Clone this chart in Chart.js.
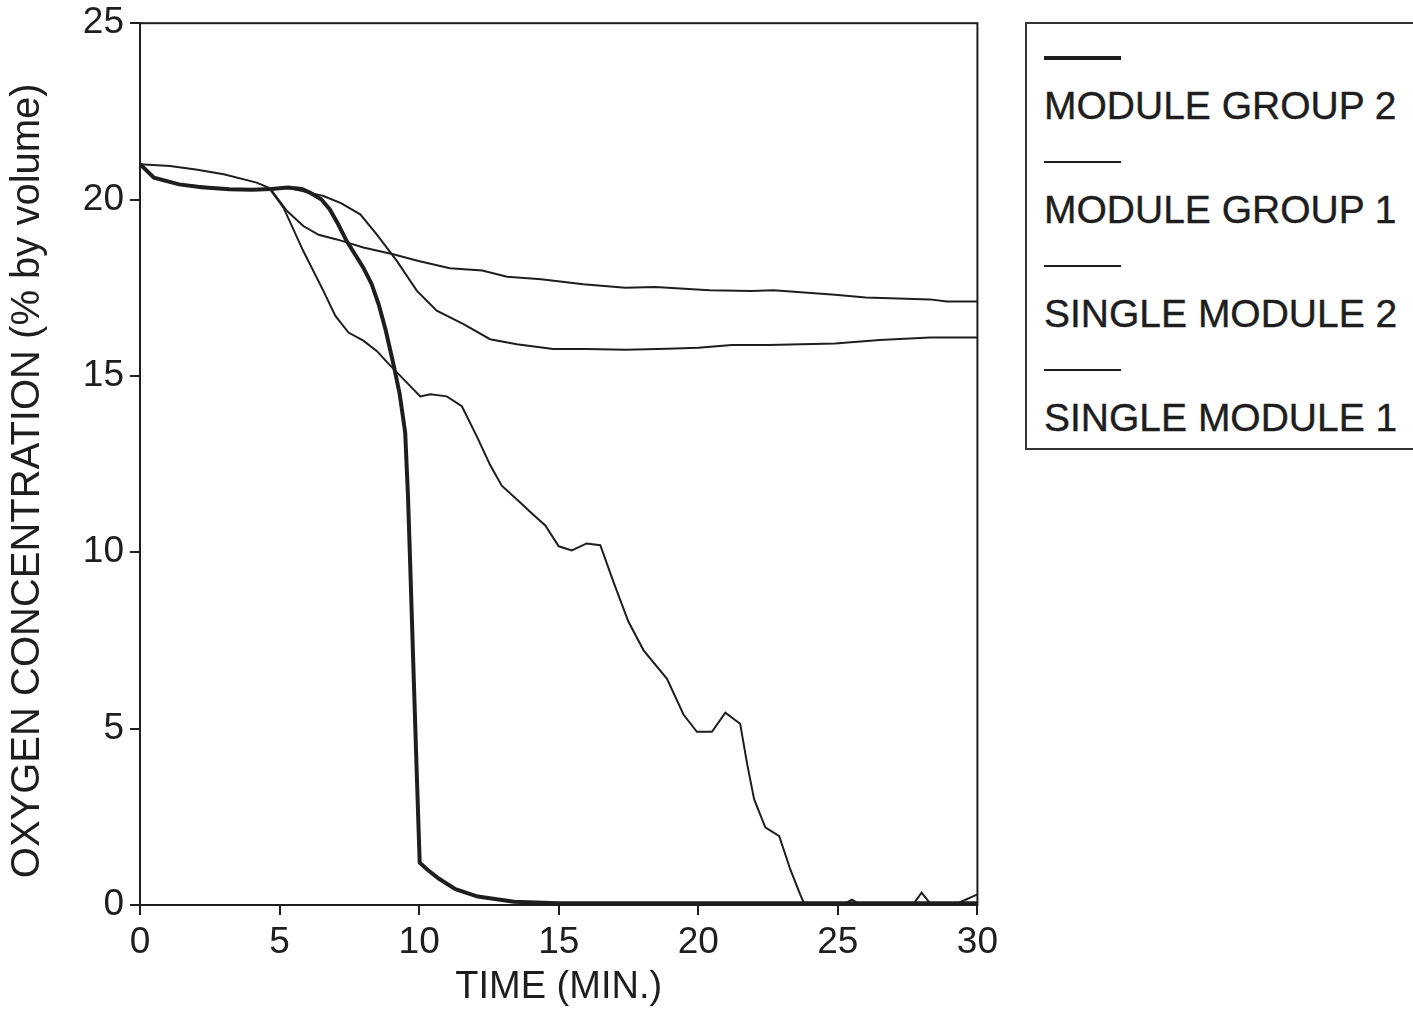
<!DOCTYPE html>
<html>
<head>
<meta charset="utf-8">
<script src="https://cdn.jsdelivr.net/npm/chart.js@4.4.1/dist/chart.umd.min.js"></script>
<style>
  html, body { margin: 0; padding: 0; background: #fff; }
  body { width: 1413px; height: 1014px; position: relative; overflow: hidden; font-family: "Liberation Sans", Arial, sans-serif; color: #1e1e1e; }
  #wrap { position: absolute; left: 0; top: -5px; width: 1004px; height: 1019px; }
  #legend { position: absolute; left: 1025px; top: 22px; width: 420px; height: 428px; border: 2px solid #333; box-sizing: border-box; }
  .leg-line { position: absolute; left: 17px; width: 77px; background: #1e1e1e; }
  .leg-text { position: absolute; left: 17px; font-size: 39px; line-height: 39px; white-space: nowrap; -webkit-text-stroke: 0.4px #1e1e1e; }
</style>
</head>
<body>
<div id="wrap"><canvas id="chart"></canvas></div>
<div id="legend"></div>
<script>
// series labels (legend order)
const seriesNames = ["MODULE GROUP 2", "MODULE GROUP 1", "SINGLE MODULE 2", "SINGLE MODULE 1"];
const lineWidths = [4, 2, 2, 2];

// x ticks / y ticks
const timeTicks = [0, 5, 10, 15, 20, 25, 30];
const o2Ticks = [0, 5, 10, 15, 20, 25];

// MODULE GROUP 2 (thick)
const timeMG2 = [0, 0.5, 1.4, 2.2, 3.2, 4.0, 4.7, 5.3, 5.8, 6.1, 6.5, 6.8, 7.1, 7.4, 7.7, 8.0, 8.3, 8.55, 8.8, 9.08, 9.3, 9.5, 9.6, 9.68, 9.8, 9.92, 10.02, 10.3, 10.7, 11.3, 12.1, 13.4, 15, 20, 25, 30];
const o2MG2 = [21.0, 20.62, 20.43, 20.35, 20.29, 20.28, 20.3, 20.34, 20.3, 20.19, 20.0, 19.72, 19.3, 18.83, 18.45, 18.07, 17.6, 17.03, 16.3, 15.33, 14.5, 13.4, 11.6, 9.65, 6.6, 3.6, 1.2, 1.0, 0.75, 0.45, 0.24, 0.09, 0.05, 0.05, 0.05, 0.05];

// MODULE GROUP 1
const timeMG1 = [0, 0.48, 1.43, 3.2, 4.66, 5.14, 5.85, 6.57, 7.0, 7.47, 8.0, 8.48, 8.9, 9.5, 10.04, 10.4, 10.99, 11.53, 12.07, 12.54, 12.96, 13.62, 14.1, 14.52, 15.0, 15.47, 16.0, 16.49, 16.97, 17.5, 18.04, 18.88, 19.47, 19.95, 20.49, 20.97, 21.5, 21.75, 22.0, 22.4, 22.9, 23.3, 23.65, 23.8, 25.2, 25.5, 25.8, 27.7, 28.0, 28.3, 29.3, 30];
const o2MG1 = [21.0, 20.62, 20.43, 20.29, 20.29, 19.77, 18.54, 17.41, 16.7, 16.23, 16.0, 15.71, 15.35, 14.86, 14.42, 14.48, 14.42, 14.14, 13.28, 12.48, 11.89, 11.41, 11.06, 10.76, 10.17, 10.05, 10.25, 10.2, 9.14, 8.03, 7.22, 6.41, 5.4, 4.91, 4.91, 5.45, 5.14, 4.0, 3.0, 2.2, 1.95, 1.0, 0.3, 0.02, 0.02, 0.15, 0.02, 0.02, 0.35, 0.05, 0.05, 0.3];

// SINGLE MODULE 2
const timeSM2 = [0, 0.48, 1.43, 3.2, 4.66, 5.26, 6.09, 6.57, 7.2, 7.89, 8.48, 9.2, 9.92, 10.63, 11.59, 12.54, 13.5, 14.8, 16, 17.4, 18.9, 20, 21.2, 22.5, 24.9, 26.5, 28.3, 30];
const o2SM2 = [21.0, 20.62, 20.43, 20.29, 20.29, 20.34, 20.19, 20.1, 19.9, 19.58, 19.01, 18.26, 17.41, 16.85, 16.47, 16.04, 15.9, 15.76, 15.76, 15.74, 15.77, 15.8, 15.88, 15.88, 15.92, 16.02, 16.09, 16.09];

// SINGLE MODULE 1
const timeSM1 = [0, 1.07, 2.0, 3.0, 4.18, 4.66, 5.26, 5.85, 6.4, 7.05, 8.0, 9.07, 9.98, 11.1, 12.26, 13.15, 14.37, 15.88, 17.38, 18.46, 20.4, 21.9, 22.7, 24.9, 26.0, 28.3, 28.9, 30];
const o2SM1 = [21.0, 20.95, 20.85, 20.72, 20.48, 20.32, 19.68, 19.25, 19.0, 18.87, 18.64, 18.45, 18.26, 18.05, 17.99, 17.81, 17.74, 17.6, 17.5, 17.52, 17.43, 17.41, 17.43, 17.3, 17.22, 17.17, 17.11, 17.11];

const allTimes = [timeMG2, timeMG1, timeSM2, timeSM1];
const allO2 = [o2MG2, o2MG1, o2SM2, o2SM1];

const INK = "#1e1e1e";

// box round the plot area (top and right sides)
const frame = {
  id: "frame",
  afterDraw(chart) {
    const a = chart.chartArea;
    const ctx = chart.ctx;
    ctx.save();
    ctx.strokeStyle = INK;
    ctx.lineWidth = 2;
    ctx.strokeRect(a.left, a.top, a.right - a.left, a.bottom - a.top);
    ctx.restore();
  }
};

const datasets = seriesNames.map((name, i) => ({
  label: name,
  data: allTimes[i].map((t, k) => ({ x: t, y: allO2[i][k] })),
  borderColor: INK,
  borderWidth: lineWidths[i],
  pointRadius: 0,
  tension: 0,
  fill: false
}));

Chart.defaults.font.family = '"Liberation Sans", Arial, sans-serif';
Chart.defaults.color = INK;

new Chart(document.getElementById("chart"), {
  type: "line",
  data: { datasets },
  options: {
    responsive: true,
    maintainAspectRatio: false,
    animation: false,
    layout: { padding: { top: 0, right: 23, bottom: 0, left: 0 } },
    plugins: { legend: { display: false }, tooltip: { enabled: false } },
    scales: {
      x: {
        type: "linear",
        min: 0,
        max: 30,
        afterBuildTicks: (s) => { s.ticks = timeTicks.map((v) => ({ value: v })); },
        afterFit: (s) => { s.height = 109; },
        ticks: { font: { size: 37 }, color: INK, padding: 6, maxRotation: 0 },
        grid: { drawOnChartArea: false, drawTicks: true, tickLength: 10, color: INK, lineWidth: 2 },
        border: { color: INK, width: 2 },
        title: { display: true, text: "TIME (MIN.)", font: { size: 38 }, color: INK, padding: { top: 4, bottom: 4 } }
      },
      y: {
        type: "linear",
        min: 0,
        max: 25,
        afterBuildTicks: (s) => { s.ticks = o2Ticks.map((v) => ({ value: v })); },
        afterFit: (s) => { s.width = 140; },
        ticks: { font: { size: 37 }, color: INK, padding: 6 },
        grid: { drawOnChartArea: false, drawTicks: true, tickLength: 10, color: INK, lineWidth: 2 },
        border: { color: INK, width: 2 },
        // trailing spaces nudge the centred title down a little
        title: { display: true, text: "OXYGEN CONCENTRATION (% by volume)\u00a0\u00a0\u00a0", font: { size: 40 }, color: INK, padding: { top: 4, bottom: 4 } }
      }
    }
  },
  plugins: [frame]
});

// legend: line sample above each label
const legend = document.getElementById("legend");
seriesNames.forEach((name, i) => {
  const line = document.createElement("div");
  line.className = "leg-line";
  line.style.top = (34 + i * 104 - lineWidths[i] / 2) + "px";
  line.style.height = lineWidths[i] + "px";
  legend.appendChild(line);
  const txt = document.createElement("div");
  txt.className = "leg-text";
  txt.style.top = (62 + i * 104) + "px";
  txt.textContent = name;
  legend.appendChild(txt);
});
</script>
</body>
</html>
